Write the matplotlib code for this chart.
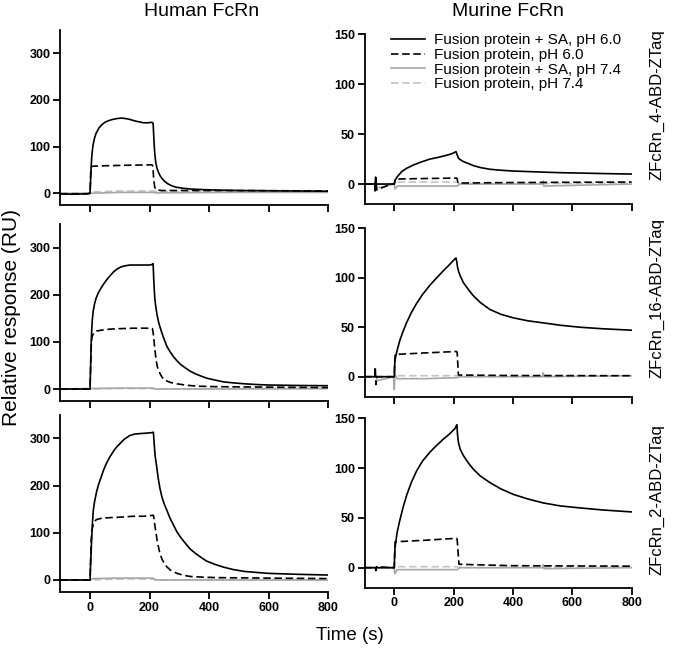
import matplotlib
matplotlib.use("Agg")
import matplotlib.pyplot as plt
from matplotlib.lines import Line2D

plt.rcParams['font.family'] = ['Liberation Sans', 'DejaVu Sans']

# ---------------- data (time s, response RU) ----------------
# Human FcRn, ZFcRn_4-ABD-ZTaq
h4_sa6_t = [-100, -60, -10, 0, 2, 4, 6, 8, 10, 15, 20, 30, 40, 50, 60, 75, 90, 105, 120, 135, 150, 165, 180, 195, 208,
            212, 214, 216, 218, 221, 225, 230, 236, 243, 250, 260, 275, 290, 310, 340, 380, 420, 500, 600, 700, 800]
h4_sa6_y = [-1, -2, -1, 0, 30, 60, 80, 93, 103, 118, 128, 140, 147, 152, 155, 158, 160, 161, 160, 158, 155, 153, 151, 151, 152,
            150, 125, 100, 82, 66, 54, 45, 37, 31, 26, 21, 16, 13, 11, 9, 8, 7, 6, 5.5, 5, 4.5]
h4_p6_t = [-100, -10, 0, 2, 4, 10, 50, 120, 207, 210, 212, 214, 217, 220, 225, 240, 500, 800]
h4_p6_y = [-1, -1, 0, 40, 57, 58, 59, 60, 61, 60, 50, 30, 15, 9, 7, 6, 6, 5]
h4_sa74_t = [-100, 0, 100, 212, 220, 500, 800]
h4_sa74_y = [0, 0, 2, 2, 1, 2, 2]
h4_p74_t = [-100, 0, 10, 100, 212, 220, 500, 800]
h4_p74_y = [0, 0, 3, 5, 5, 4, 4, 4]

# Human FcRn, ZFcRn_16-ABD-ZTaq
h16_sa6_t = [-100, -10, 0, 2, 4, 6, 8, 11, 15, 20, 27, 33, 45, 55, 67, 80, 90, 101, 115, 134, 160, 185, 200, 208, 212,
             214, 216, 218, 222, 226, 230, 235, 242, 250, 258, 268, 280, 292, 305, 320, 336, 355, 375, 392, 420, 450,
             482, 520, 560, 600, 700, 800]
h16_sa6_y = [0, 0, 0, 50, 100, 130, 150, 167, 180, 192, 203, 210, 222, 231, 240, 249, 254, 258, 261, 263, 263, 263, 263, 264, 266,
             235, 210, 190, 170, 155, 143, 132, 118, 104, 91, 80, 69, 60, 52, 45, 38, 32, 27, 23, 19, 15,
             13, 11, 9.5, 8.5, 7.5, 7]
h16_p6_t = [-100, -10, 0, 2, 4, 6, 9, 15, 22, 40, 67, 100, 146, 207, 210, 213, 216, 219, 222, 226, 230, 235, 242, 250,
            258, 270, 292, 325, 360, 420, 600, 800]
h16_p6_y = [0, 0, 0, 50, 90, 108, 115, 120, 123, 125, 127, 128, 129, 129, 128, 115, 96, 78, 62, 48, 40, 33, 25, 20,
            17, 14, 11, 8, 6, 5, 4, 3]
h16_sa74_t = [-100, 0, 100, 212, 220, 500, 800]
h16_sa74_y = [0, 1, 2, 2, 0, 0, 1]
h16_p74_t = [-100, 0, 100, 212, 220, 500, 800]
h16_p74_y = [0, 0, 1, 1, 0, 1, 1]

# Human FcRn, ZFcRn_2-ABD-ZTaq
h2_sa6_t = [-100, -10, 0, 2, 4, 6, 8, 11, 15, 22, 30, 38, 45, 55, 67, 80, 90, 101, 115, 134, 150, 168, 190, 208, 213,
            216, 219, 224, 229, 235, 242, 250, 258, 268, 280, 292, 305, 320, 336, 355, 375, 392, 420, 450, 482,
            520, 560, 600, 650, 700, 800]
h2_sa6_y = [0, 0, 0, 35, 65, 95, 120, 148, 165, 187, 205, 219, 232, 247, 261, 274, 282, 289, 298, 306, 309, 310, 311, 312, 313,
            285, 262, 240, 216, 194, 175, 160, 148, 132, 117, 102, 90, 78, 66, 56, 47, 40, 33, 27, 22,
            18, 16, 14, 13, 12, 10.5]
h2_p6_t = [-100, -10, 0, 2, 4, 7, 11, 16, 22, 40, 67, 100, 146, 180, 213, 215, 218, 222, 226, 230, 235, 242, 250, 258,
           270, 292, 315, 336, 380, 426, 600, 800]
h2_p6_y = [0, 0, 0, 45, 85, 108, 118, 125, 128, 131, 132, 133, 135, 135, 137, 130, 115, 99, 82, 70, 56, 44, 35, 28,
           21, 14, 10, 7.5, 6, 5, 4, 3]
h2_sa74_t = [-100, 0, 10, 100, 212, 220, 500, 800]
h2_sa74_y = [0, 0, 3, 4, 4, 0, 0, 0]
h2_p74_t = [-100, 0, 100, 212, 220, 500, 800]
h2_p74_y = [0, 0, 2, 2, 0, 1, 1]

# Murine FcRn, ZFcRn_4-ABD-ZTaq
m4_sa6_t = [-100, -66, -65, -63, -60, -10, 0, 2, 5, 8, 15, 25, 40, 64, 90, 120, 145, 165, 185, 199, 208,
            211, 216, 222, 233, 250, 266, 290, 322, 360, 401, 450, 513, 570, 626, 700, 800]
m4_sa6_y = [0, 0, -7, 7, 0, 0, 0, 3, 5, 6.5, 9, 12.4, 15.5, 19, 22, 25, 26.5, 28, 29.5, 31, 32.5,
            30, 26, 24.5, 22.5, 20.5, 18.5, 16.5, 14.8, 13.8, 13, 12.5, 11.8, 11.3, 11, 10.5, 10]
m4_p6_t = [-100, -64, -62, -60, -10, 0, 3, 100, 210, 212, 215, 400, 800]
m4_p6_y = [0, 0, 6, -6, 0, 0, 5, 5.5, 6, 5, 1, 1.5, 2]
m4_sa74_t = [-100, -60, -58, 0, 2, 10, 100, 212, 220, 500, 502, 504, 800]
m4_sa74_y = [0, 0, -4, 0, -5, -2, -2, -2, 0, 0, 3, -2, 0]
m4_p74_t = [-100, 0, 10, 100, 212, 220, 800]
m4_p74_y = [0, 0, 2, 2, 2, 0, 1]

# Murine FcRn, ZFcRn_16-ABD-ZTaq
m16_sa6_t = [-100, -10, 0, 1, 2, 4.5, 10, 19, 30, 42, 58, 75, 95, 120, 140, 165, 185, 204, 208,
             210, 213, 216, 222, 233, 250, 266, 290, 322, 360, 401, 450, 502, 560, 626, 700, 800]
m16_sa6_y = [0, 0, 0, 10, 15, 20, 27, 37, 46, 55, 65, 74, 83, 92.5, 99, 107, 113, 119, 120,
             117, 111, 107, 102, 95, 88, 82, 75, 68, 63, 59.5, 56.5, 54.4, 52, 50, 48.5, 47]
m16_p6_t = [-100, -66, -64, -62, -60, -10, 0, 3, 100, 210, 212, 216, 400, 800]
m16_p6_y = [0, 0, 10, -8, 0, 0, 0, 22.5, 24, 25.5, 24, 1.7, 1.2, 1]
m16_sa74_t = [-100, -60, -58, -2, 0, 2, 10, 100, 212, 220, 500, 502, 504, 800]
m16_sa74_y = [0, 0, -4, 0, -13, 3, -2, -2, -1, 0, 0, 4, 0, 1]
m16_p74_t = [-100, 0, 10, 212, 220, 800]
m16_p74_y = [0, 0, 1, 1, 0, 1]

# Murine FcRn, ZFcRn_2-ABD-ZTaq
m2_sa6_t = [-100, -10, 0, 1, 2, 4.5, 10, 19, 30, 42, 58, 75, 95, 120, 140, 165, 185, 204, 211,
            213, 216, 222, 233, 250, 266, 290, 322, 360, 401, 450, 502, 560, 626, 700, 800]
m2_sa6_y = [0, 0, 0, 12, 18, 25, 36, 48, 61, 73, 86, 97, 107, 116, 122, 129, 134, 139.5, 143.6,
            134, 126, 119, 112.5, 105, 99, 92, 85.5, 79, 73.6, 69, 65, 62, 60, 58, 56]
m2_p6_t = [-100, -64, -62, -60, -10, 0, 3, 100, 210, 212, 218, 400, 800]
m2_p6_y = [0, 0, -3, 1, 0, 0, 26, 27.5, 29.5, 28, 3.4, 2, 1.5]
m2_sa74_t = [-100, 0, 2, 10, 100, 212, 220, 500, 502, 504, 800]
m2_sa74_y = [0, 0, -6, -2, -2, -2, 0, 0, 3, -1, 0]
m2_p74_t = [-100, 0, 10, 212, 220, 800]
m2_p74_y = [0, 0, 1, 1, 0, 1]

col_titles = ["Human FcRn", "Murine FcRn"]
row_labels = ["ZFcRn_4-ABD-ZTaq", "ZFcRn_16-ABD-ZTaq", "ZFcRn_2-ABD-ZTaq"]
legend_labels = ["Fusion protein + SA, pH 6.0", "Fusion protein, pH 6.0",
                 "Fusion protein + SA, pH 7.4", "Fusion protein, pH 7.4"]
x_ticks = [0, 200, 400, 600, 800]
human_yticks = [0, 100, 200, 300]
murine_yticks = [0, 50, 100, 150]

panels = [
    [(h4_sa6_t, h4_sa6_y, h4_p6_t, h4_p6_y, h4_sa74_t, h4_sa74_y, h4_p74_t, h4_p74_y),
     (m4_sa6_t, m4_sa6_y, m4_p6_t, m4_p6_y, m4_sa74_t, m4_sa74_y, m4_p74_t, m4_p74_y)],
    [(h16_sa6_t, h16_sa6_y, h16_p6_t, h16_p6_y, h16_sa74_t, h16_sa74_y, h16_p74_t, h16_p74_y),
     (m16_sa6_t, m16_sa6_y, m16_p6_t, m16_p6_y, m16_sa74_t, m16_sa74_y, m16_p74_t, m16_p74_y)],
    [(h2_sa6_t, h2_sa6_y, h2_p6_t, h2_p6_y, h2_sa74_t, h2_sa74_y, h2_p74_t, h2_p74_y),
     (m2_sa6_t, m2_sa6_y, m2_p6_t, m2_p6_y, m2_sa74_t, m2_sa74_y, m2_p74_t, m2_p74_y)],
]

# ---------------- layout ----------------
W, H = 673, 650
fig = plt.figure(figsize=(W / 100, H / 100), dpi=100)

col_x = [(60.3, 328.0), (364.6, 631.7)]
rows_px = [
    [(29.8, 205.0), (34.3, 204.0)],
    [(224.0, 400.8), (228.3, 396.5)],
    [(414.7, 591.8), (418.3, 587.6)],
]

styles = [
    dict(color='black', lw=1.2, ls='-'),
    dict(color='black', lw=1.2, ls=(0, (4.5, 2.2))),
    dict(color='#a6a6a6', lw=1.2, ls='-'),
    dict(color='#c4c4c4', lw=1.2, ls=(0, (4.5, 2.2))),
]

for r in range(3):
    for c in range(2):
        x0, x1 = col_x[c]
        top, bot = rows_px[r][c]
        ax = fig.add_axes([x0 / W, 1 - bot / H, (x1 - x0) / W, (bot - top) / H])
        d = panels[r][c]
        for k in [3, 2, 1, 0]:
            ax.plot(d[2 * k], d[2 * k + 1], **styles[k])
        ax.set_xlim(-100, 800)
        if c == 0:
            ax.set_ylim(-25, 350)
            ax.set_yticks(human_yticks)
        else:
            ax.set_ylim(-20, 150)
            ax.set_yticks(murine_yticks)
        ax.set_xticks(x_ticks)
        for s in ['top', 'right']:
            ax.spines[s].set_visible(False)
        for s in ['left', 'bottom']:
            ax.spines[s].set_linewidth(1.3)
        ax.tick_params(direction='out', length=5, width=1.3, pad=2)
        for lab in ax.get_yticklabels():
            lab.set_fontsize(9)
            lab.set_fontweight('bold')
        if r == 2:
            for lab in ax.get_xticklabels():
                lab.set_fontsize(9)
                lab.set_fontweight('bold')
        else:
            ax.set_xticklabels([])
        if r == 0 and c == 1:
            handles = [Line2D([], [], **styles[k]) for k in range(4)]
            ax.legend(handles, legend_labels, loc='upper left', bbox_to_anchor=(0.06, 1.07),
                      frameon=False, fontsize=11, handlelength=2.2, handletextpad=0.6,
                      labelspacing=0.05, borderpad=0.2)

fig.text(202 / W, 1 - 12 / H, col_titles[0], ha='center', va='center', fontsize=14)
fig.text(508 / W, 1 - 12 / H, col_titles[1], ha='center', va='center', fontsize=14)
fig.text(12 / W, 1 - 318 / H, "Relative response (RU)", ha='center', va='center',
         rotation=90, fontsize=15)
fig.text(350 / W, 1 - 636 / H, "Time (s)", ha='center', va='center', fontsize=13.5)
row_y = [105, 298, 500]
for r in range(3):
    fig.text(657 / W, 1 - row_y[r] / H, row_labels[r], ha='center', va='center',
             rotation=90, fontsize=12)

fig.savefig("out.png", dpi=100)
